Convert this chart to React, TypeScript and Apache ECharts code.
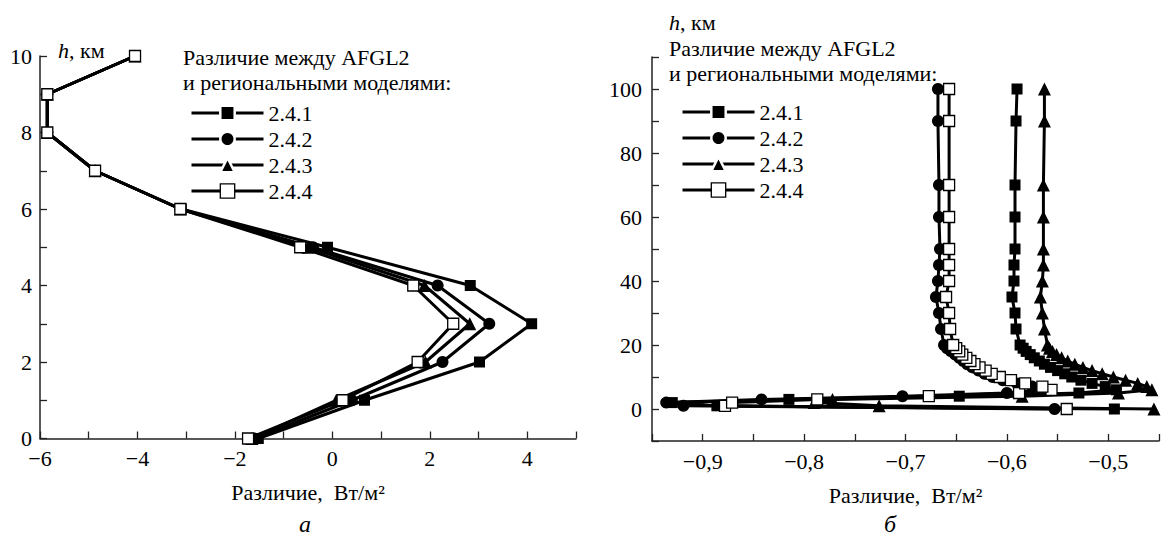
import React, { useEffect, useRef } from 'react';
import * as echarts from 'echarts';

// ---- Panel "а" (0–10 km) ----
const leftHeights = [0, 1, 2, 3, 4, 5, 6, 7, 8, 9, 10];
const left241 = [-1.52, 0.66, 3.02, 4.09, 2.83, -0.10, -3.10, -4.87, -5.85, -5.85, -4.05];
const left242 = [-1.60, 0.40, 2.26, 3.22, 2.16, -0.40, -3.12, -4.87, -5.85, -5.85, -4.05];
const left243 = [-1.65, 0.08, 1.91, 2.82, 1.89, -0.50, -3.12, -4.87, -5.85, -5.85, -4.05];
const left244 = [-1.73, 0.21, 1.75, 2.48, 1.66, -0.66, -3.12, -4.87, -5.85, -5.85, -4.05];

// ---- Panel "б" (0–100 km) ----
const rightHeights = [0, 1, 2, 3, 4, 5, 6, 7, 8, 9, 10, 11, 12, 13, 14, 15, 16, 17, 18, 19, 20, 25, 30, 35, 40, 45, 50, 60, 70, 90, 100];
const right241 = [-0.494, -0.886, -0.930, -0.815, -0.647, -0.529, -0.492, -0.503, -0.516, -0.527, -0.536, -0.543, -0.550, -0.557, -0.563, -0.568, -0.573, -0.577, -0.581, -0.584, -0.587, -0.591, -0.592, -0.595, -0.593, -0.593, -0.592, -0.592, -0.592, -0.591, -0.590];
const right242 = [-0.553, -0.919, -0.936, -0.842, -0.703, -0.600, -0.566, -0.575, -0.590, -0.604, -0.614, -0.622, -0.628, -0.634, -0.639, -0.643, -0.647, -0.651, -0.655, -0.659, -0.662, -0.665, -0.667, -0.670, -0.668, -0.667, -0.666, -0.667, -0.667, -0.668, -0.668];
const right243 = [-0.455, -0.726, -0.790, -0.772, -0.585, -0.490, -0.457, -0.462, -0.471, -0.483, -0.495, -0.506, -0.516, -0.525, -0.533, -0.540, -0.546, -0.551, -0.555, -0.558, -0.560, -0.563, -0.565, -0.567, -0.565, -0.564, -0.564, -0.564, -0.564, -0.563, -0.563];
const right244 = [-0.541, -0.878, -0.871, -0.787, -0.677, -0.588, -0.556, -0.565, -0.582, -0.596, -0.607, -0.615, -0.621, -0.627, -0.632, -0.636, -0.640, -0.644, -0.647, -0.650, -0.653, -0.656, -0.657, -0.660, -0.657, -0.657, -0.657, -0.657, -0.657, -0.657, -0.657];

const seriesNames = ['2.4.1', '2.4.2', '2.4.3', '2.4.4'];
const titleLine1 = 'Различие между AFGL2';
const titleLine2 = 'и региональными моделями:';
const xAxisName = 'Различие,  Вт/м²';

const FAMILY = '"Liberation Serif", "DejaVu Serif", serif';
const FS = 22;

const symbolDefs = [
  { symbol: 'rect', symbolSize: 11, itemStyle: { color: '#000', borderColor: '#000', borderWidth: 0 } },
  { symbol: 'circle', symbolSize: 12, itemStyle: { color: '#000', borderColor: '#000', borderWidth: 0 } },
  { symbol: 'triangle', symbolSize: 13, itemStyle: { color: '#000', borderColor: '#000', borderWidth: 0 } },
  { symbol: 'rect', symbolSize: 11, itemStyle: { color: '#fff', borderColor: '#000', borderWidth: 1.3 } },
];

const minus = (s: string) => s.replace('-', '−');

export default function App() {
  const ref = useRef<HTMLDivElement>(null);

  useEffect(() => {
    if (!ref.current) return;
    const chart = echarts.init(ref.current, null, { renderer: 'svg' });

    const leftSets = [left241, left242, left243, left244];
    const rightSets = [right241, right242, right243, right244];

    const labelStyle = { color: '#000', fontSize: FS, fontFamily: FAMILY, fontStyle: 'normal', fontWeight: 'normal' };

    const axisCommon = {
      axisLine: { show: true, onZero: false, lineStyle: { color: '#222', width: 1.5 } },
      axisTick: { show: true, inside: true, length: 7, lineStyle: { color: '#222', width: 1.3 } },
      splitLine: { show: false },
      axisLabel: { ...labelStyle },
      nameTextStyle: { ...labelStyle },
    };

    const series: any[] = [];
    leftSets.forEach((vals, i) => {
      series.push({
        name: seriesNames[i],
        type: 'line',
        xAxisIndex: 0,
        yAxisIndex: 0,
        data: leftHeights.map((h, k) => [vals[k], h]),
        symbol: symbolDefs[i].symbol,
        symbolSize: symbolDefs[i].symbolSize,
        itemStyle: symbolDefs[i].itemStyle,
        lineStyle: { color: '#000', width: 3 },
        color: '#000',
        showAllSymbol: true,
        clip: true,
      });
    });
    rightSets.forEach((vals, i) => {
      series.push({
        name: seriesNames[i],
        type: 'line',
        xAxisIndex: 1,
        yAxisIndex: 1,
        data: rightHeights.map((h, k) => [vals[k], h]),
        symbol: symbolDefs[i].symbol,
        symbolSize: symbolDefs[i].symbolSize,
        itemStyle: symbolDefs[i].itemStyle,
        lineStyle: { color: '#000', width: 3 },
        color: '#000',
        showAllSymbol: true,
        clip: true,
      });
    });

    const legendData = seriesNames.map((n, i) => ({
      name: n,
      itemStyle: i < 3 ? { color: '#000', borderColor: '#fff', borderWidth: 2.5 } : { color: '#fff', borderColor: '#000', borderWidth: 1.3 },
      lineStyle: { color: '#000', width: 3 },
    }));

    const legendCommon = {
      orient: 'vertical',
      itemWidth: 72,
      itemHeight: 18,
      itemGap: 4,
      selectedMode: false,
      textStyle: { ...labelStyle, lineHeight: 21 },
      data: legendData,
    };

    const text = (x: number, y: number, t: string, extra: any = {}) => ({
      type: 'text',
      x,
      y,
      style: { text: t, fill: '#000', font: `${FS}px ${FAMILY}`, textVerticalAlign: 'middle', ...extra },
    });

    const hKm = (x: number, y: number) => ({
      type: 'group',
      x,
      y,
      children: [
        { type: 'text', x: 0, y: 0, style: { text: 'h', fill: '#000', font: `italic ${FS}px ${FAMILY}`, textVerticalAlign: 'middle' } },
        { type: 'text', x: 11, y: 0, style: { text: ', км', fill: '#000', font: `${FS}px ${FAMILY}`, textVerticalAlign: 'middle' } },
      ],
    });

    chart.setOption({
      animation: false,
      backgroundColor: '#fff',
      textStyle: { fontFamily: FAMILY, color: '#000' },
      grid: [
        { left: 40, top: 56, width: 536, height: 382.5 },
        { left: 652, top: 57, width: 507, height: 384 },
      ],
      xAxis: [
        {
          ...axisCommon,
          type: 'value',
          gridIndex: 0,
          min: -6,
          max: 5,
          interval: 1,
          name: xAxisName,
          nameLocation: 'middle',
          nameGap: 43,
          axisLabel: {
            ...labelStyle,
            margin: 9,
            formatter: (v: number) => (Math.round(v) % 2 === 0 && v < 5 ? minus(String(Math.round(v))) : ''),
          },
        },
        {
          ...axisCommon,
          type: 'value',
          gridIndex: 1,
          min: -0.95,
          max: -0.45,
          interval: 0.05,
          name: xAxisName,
          nameLocation: 'middle',
          nameGap: 43,
          axisLabel: {
            ...labelStyle,
            margin: 9,
            formatter: (v: number) => {
              const r = Math.round(v * 100);
              if (r % 10 !== 0) return '';
              return '−0,' + String(Math.abs(r / 10));
            },
          },
        },
      ],
      yAxis: [
        {
          ...axisCommon,
          type: 'value',
          gridIndex: 0,
          min: 0,
          max: 10,
          interval: 1,
          axisLabel: {
            ...labelStyle,
            margin: 8,
            formatter: (v: number) => (Math.round(v) % 2 === 0 ? String(Math.round(v)) : ''),
          },
        },
        {
          ...axisCommon,
          type: 'value',
          gridIndex: 1,
          min: -10,
          max: 110,
          interval: 10,
          axisLabel: {
            ...labelStyle,
            margin: 10,
            formatter: (v: number) => {
              const r = Math.round(v);
              return r >= 0 && r <= 100 && r % 20 === 0 ? String(r) : '';
            },
          },
        },
      ],
      legend: [
        { ...legendCommon, left: 185, top: 97 },
        { ...legendCommon, left: 676, top: 96 },
      ],
      graphic: [
        hKm(58, 50),
        text(183, 57, titleLine1),
        text(183, 82, titleLine2),
        hKm(669, 22),
        text(669, 48.5, titleLine1),
        text(669, 73.5, titleLine2),
        text(305, 524, 'а', { textAlign: 'center', font: `italic 24px ${FAMILY}` }),
        text(890, 524, 'б', { textAlign: 'center', font: `italic 24px ${FAMILY}` }),
      ],
      series,
    });

    return () => chart.dispose();
  }, []);

  return <div ref={ref} style={{ position: 'fixed', left: 0, top: 0, width: 1172, height: 552, background: '#fff' }} />;
}
